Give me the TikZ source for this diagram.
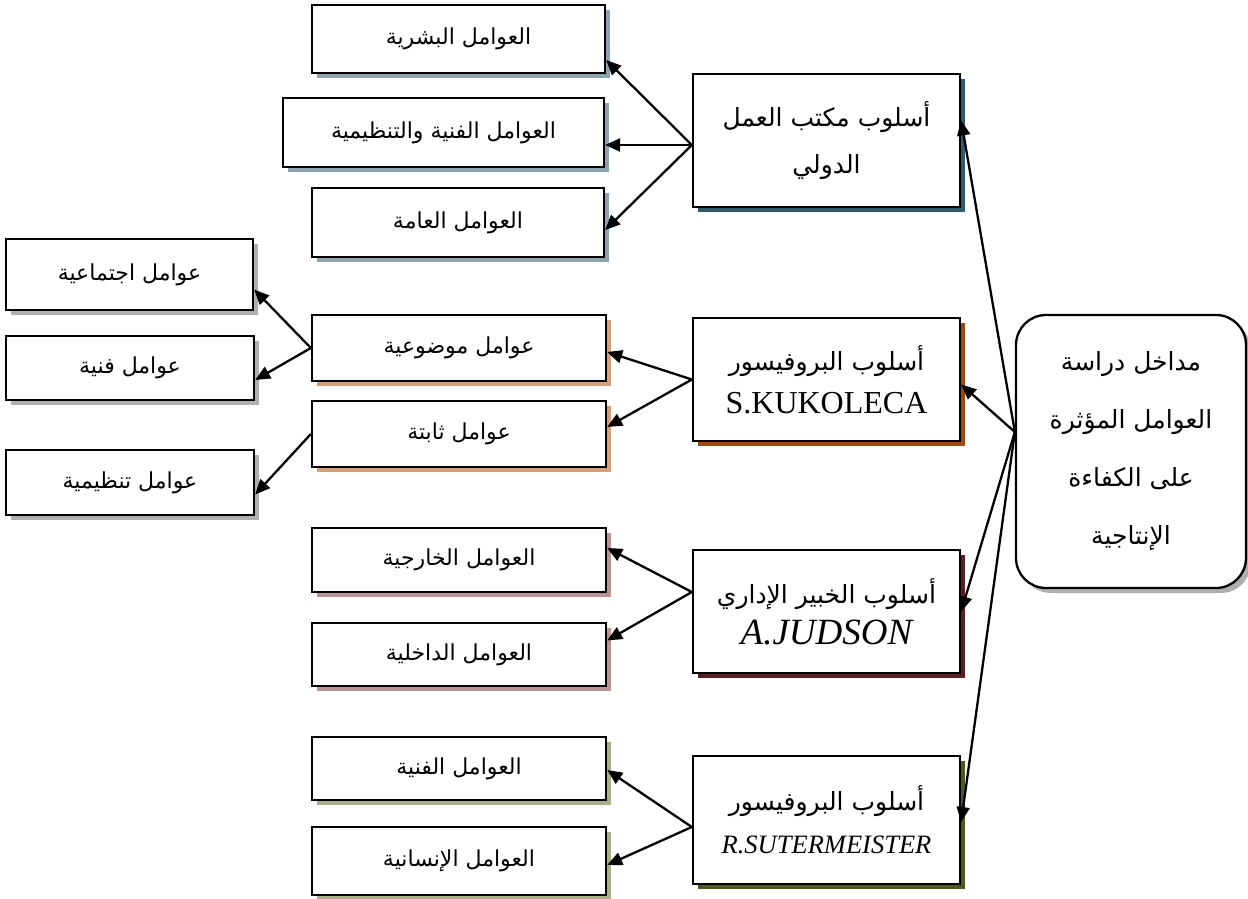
\documentclass[tikz,border=0pt]{standalone}
\usepackage{fontspec}
\setmainfont{Liberation Serif}
\newfontfamily\arabicfont[Script=Arabic]{DejaVu Sans}
\TeXXeTstate=1
\usetikzlibrary{arrows.meta,shadows,calc}
\newcommand{\ar}[1]{{\arabicfont\beginR #1\endR}}

\definecolor{shBlueDark}{HTML}{2F5B6B}
\definecolor{shBlue}{HTML}{8DA3AE}
\definecolor{shBrownDark}{HTML}{9A4A10}
\definecolor{shTan}{HTML}{D4A07A}
\definecolor{shGray}{HTML}{AFAFAF}
\definecolor{shMaroon}{HTML}{5C1E1E}
\definecolor{shRose}{HTML}{B89595}
\definecolor{shOliveDark}{HTML}{4B5A1E}
\definecolor{shOlive}{HTML}{A8B08A}

\begin{document}
\begin{tikzpicture}[x=1pt,y=-1pt,
  box/.style={draw=black, line width=2.3pt, fill=white, inner sep=2pt, align=center},
  sh/.style={drop shadow={shadow xshift=5pt, shadow yshift=-5pt, fill=#1, opacity=1}},
  link/.style={line width=2.3pt, -{Triangle[length=15pt,width=13pt]}},
  subtxt/.style={font=\fontsize{22}{26}\selectfont},
  midtxt/.style={font=\fontsize{25}{47}\selectfont},
  bigtxt/.style={font=\fontsize{25}{58}\selectfont}
]
\useasboundingbox (0,0) rectangle (1248,899);

% first approach and its three factors
\node[box, sh=shBlueDark, midtxt, minimum width=267pt, minimum height=133pt] (M1) at (826.5,140.5)
  {\ar{أسلوب مكتب العمل}\\\ar{الدولي}};
\node[box, sh=shBlue, subtxt, minimum width=293pt, minimum height=68pt] (A1) at (458.5,39) {\ar{العوامل البشرية}};
\node[box, sh=shBlue, subtxt, minimum width=321pt, minimum height=69pt] (A2) at (443.5,132.5) {\ar{العوامل الفنية والتنظيمية}};
\node[box, sh=shBlue, subtxt, minimum width=292pt, minimum height=69pt] (A3) at (458,222.5) {\ar{العوامل العامة}};

% second approach
\node[box, sh=shBrownDark, midtxt, minimum width=267pt, minimum height=123pt] (M2) at (826.5,379.5)
  {\ar{أسلوب البروفيسور}\\[-4pt]{\fontsize{32}{36}\selectfont S.KUKOLECA}};
\node[box, sh=shTan, subtxt, minimum width=294pt, minimum height=66pt] (B1) at (459,348) {\ar{عوامل موضوعية}};
\node[box, sh=shTan, subtxt, minimum width=294pt, minimum height=66pt] (B2) at (459,434) {\ar{عوامل ثابتة}};
\node[box, sh=shGray, subtxt, minimum width=247pt, minimum height=71pt] (C1) at (129.5,274.5) {\ar{عوامل اجتماعية}};
\node[box, sh=shGray, subtxt, minimum width=248pt, minimum height=64pt] (C2) at (130,368) {\ar{عوامل فنية}};
\node[box, sh=shGray, subtxt, minimum width=248pt, minimum height=65pt] (C3) at (130,482.5) {\ar{عوامل تنظيمية}};

% third approach
\node[box, sh=shMaroon, midtxt, minimum width=267pt, minimum height=123pt] (M3) at (826.5,611.5)
  {\ar{أسلوب الخبير الإداري}\\[-6pt]{\fontsize{37}{40}\selectfont\itshape A.JUDSON}};
\node[box, sh=shRose, subtxt, minimum width=294pt, minimum height=64pt] (D1) at (459,560) {\ar{العوامل الخارجية}};
\node[box, sh=shRose, subtxt, minimum width=294pt, minimum height=63pt] (D2) at (459,654.5) {\ar{العوامل الداخلية}};

% fourth approach
\node[box, sh=shOliveDark, midtxt, minimum width=267pt, minimum height=128pt] (M4) at (826.5,820)
  {\ar{أسلوب البروفيسور}\\[-4pt]{\fontsize{26.5}{30}\selectfont\itshape R.SUTERMEISTER}};
\node[box, sh=shOlive, subtxt, minimum width=294pt, minimum height=63pt] (E1) at (459,768.5) {\ar{العوامل الفنية}};
\node[box, sh=shOlive, subtxt, minimum width=294pt, minimum height=68pt] (E2) at (459,861) {\ar{العوامل الإنسانية}};

% central topic
\node[box, sh=shGray, bigtxt, rounded corners=30pt, minimum width=230pt, minimum height=273pt] (T) at (1131,451.5)
  {\ar{مداخل دراسة}\\\ar{العوامل المؤثرة}\\\ar{على الكفاءة}\\\ar{الإنتاجية}};

\coordinate (t0) at ([yshift=19.5pt]T.west);
\draw[link] (t0) -- ([yshift=20pt]M1.east);
\draw[link] (t0) -- ([yshift=-5pt]M2.east);
\draw[link] (t0) -- (M3.east);
\draw[link] (t0) -- ([yshift=-2pt]M4.east);

\coordinate (m1) at ([yshift=-4.5pt]M1.west);
\draw[link] (m1) -- ([yshift=-21pt]A1.east);
\draw[link] (m1) -- ([yshift=-12.5pt]A2.east);
\draw[link] (m1) -- ([yshift=-7.5pt]A3.east);

\draw[link] (M2.west) -- ([yshift=-4pt]B1.east);
\draw[link] (M2.west) -- ([yshift=7pt]B2.east);
\draw[link] (B1.west) -- ([yshift=-15pt]C1.east);
\draw[link] (B1.west) -- ([yshift=-12pt]C2.east);
\draw[link] (B2.west) -- ([yshift=-12pt]C3.east);

\coordinate (m3) at ([yshift=19.5pt]M3.west);
\draw[link] (m3) -- ([yshift=12pt]D1.east);
\draw[link] (m3) -- ([yshift=14pt]D2.east);

\coordinate (m4) at ([yshift=-7pt]M4.west);
\draw[link] (m4) -- ([yshift=-1.5pt]E1.east);
\draw[link] (m4) -- ([yshift=-4pt]E2.east);
\end{tikzpicture}
\end{document}
